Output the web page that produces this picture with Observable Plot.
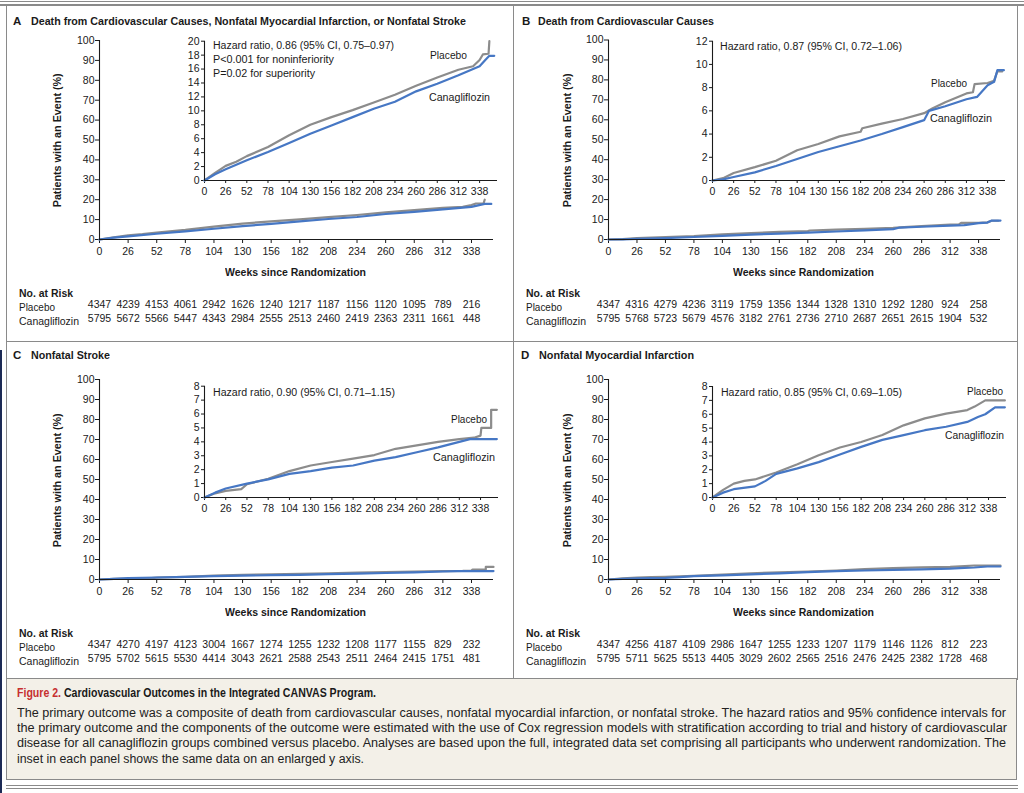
<!DOCTYPE html>
<html>
<head>
<meta charset="utf-8">
<script src="https://cdn.jsdelivr.net/npm/d3@7"></script>
<script src="https://cdn.jsdelivr.net/npm/@observablehq/plot@0.6"></script>
<style>
  html, body { margin: 0; padding: 0; background: #fff; }
  #fig { position: relative; width: 1024px; height: 793px; overflow: hidden; background: #fff;
         font-family: "Liberation Sans Narrow", "Liberation Sans", Arial, sans-serif; color: #1a1a1a; }
  #fig svg { position: absolute; left: 0; top: 0; }
  .t { position: absolute; left: 0; top: 0; white-space: nowrap; line-height: 1.2; }
  .ln { position: absolute; background: #8a8a8a; }
</style>
</head>
<body>
<div id="fig"></div>
<script>
// ---------------- DATA ----------------
const weekTicks = [0, 26, 52, 78, 104, 130, 156, 182, 208, 234, 260, 286, 312, 338];

// Numbers at risk
const riskPlaceboA = [4347, 4239, 4153, 4061, 2942, 1626, 1240, 1217, 1187, 1156, 1120, 1095, 789, 216];
const riskCanaA    = [5795, 5672, 5566, 5447, 4343, 2984, 2555, 2513, 2460, 2419, 2363, 2311, 1661, 448];
const riskPlaceboB = [4347, 4316, 4279, 4236, 3119, 1759, 1356, 1344, 1328, 1310, 1292, 1280, 924, 258];
const riskCanaB    = [5795, 5768, 5723, 5679, 4576, 3182, 2761, 2736, 2710, 2687, 2651, 2615, 1904, 532];
const riskPlaceboC = [4347, 4270, 4197, 4123, 3004, 1667, 1274, 1255, 1232, 1208, 1177, 1155, 829, 232];
const riskCanaC    = [5795, 5702, 5615, 5530, 4414, 3043, 2621, 2588, 2543, 2511, 2464, 2415, 1751, 481];
const riskPlaceboD = [4347, 4256, 4187, 4109, 2986, 1647, 1255, 1233, 1207, 1179, 1146, 1126, 812, 223];
const riskCanaD    = [5795, 5711, 5625, 5513, 4405, 3029, 2602, 2565, 2516, 2476, 2425, 2382, 1728, 468];

// Cumulative incidence (%): [week, percent]
const placeboA = [[0,0],[13,1.1],[26,2.1],[39,2.7],[52,3.5],[78,4.8],[104,6.5],[130,8.0],[156,9.1],[182,10.1],[208,11.2],[234,12.3],[260,13.6],[286,14.8],[312,15.9],[330,16.4],[338,17.3],[342,18.1],[349,18.2],[350,20.0]];
const canaA    = [[0,0],[13,0.9],[26,1.6],[52,2.9],[78,4.1],[104,5.4],[130,6.7],[156,7.9],[182,9.1],[208,10.3],[234,11.3],[260,12.8],[286,13.9],[312,15.1],[338,16.4],[345,17.3],[350,17.9],[356,17.9]];

const placeboB = [[0,0],[13,0.2],[26,0.65],[52,1.15],[78,1.7],[104,2.6],[130,3.15],[156,3.8],[182,4.2],[184,4.5],[208,4.9],[234,5.3],[260,5.8],[270,6.2],[286,6.75],[312,7.5],[320,7.6],[322,8.3],[338,8.4],[346,8.6],[350,9.4],[356,9.4]];
const canaB    = [[0,0],[13,0.1],[26,0.3],[52,0.7],[78,1.25],[104,1.85],[130,2.45],[156,2.95],[182,3.45],[208,4.0],[234,4.6],[260,5.2],[266,6.0],[286,6.4],[312,7.0],[325,7.2],[338,8.2],[346,8.5],[350,9.5],[358,9.5]];

const placeboC = [[0,0],[13,0.3],[26,0.48],[45,0.6],[52,0.95],[78,1.35],[104,1.9],[130,2.3],[156,2.55],[182,2.8],[208,3.05],[234,3.5],[260,3.75],[286,4.0],[312,4.2],[330,4.3],[338,4.45],[339,5.0],[351,5.0],[351,6.3],[358,6.3]];
const canaC    = [[0,0],[13,0.35],[26,0.65],[52,1.0],[78,1.3],[104,1.7],[130,1.9],[156,2.15],[182,2.3],[208,2.65],[234,2.9],[260,3.25],[286,3.6],[312,4.0],[325,4.2],[358,4.2]];

const placeboD = [[0,0],[13,0.55],[26,1.0],[39,1.2],[52,1.3],[78,1.8],[104,2.4],[130,3.05],[156,3.6],[182,4.0],[208,4.5],[234,5.2],[260,5.7],[286,6.05],[312,6.3],[321,6.55],[334,7.0],[358,7.0]];
const canaD    = [[0,0],[13,0.35],[26,0.6],[52,0.8],[65,1.2],[78,1.7],[104,2.1],[130,2.55],[156,3.1],[182,3.65],[208,4.15],[234,4.5],[260,4.85],[286,5.1],[312,5.45],[325,5.8],[334,6.0],[346,6.5],[358,6.5]];

const mainYTicks = [0, 10, 20, 30, 40, 50, 60, 70, 80, 90, 100];
const insetYTicksA = [0, 2, 4, 6, 8, 10, 12, 14, 16, 18, 20];
const insetYTicksB = [0, 2, 4, 6, 8, 10, 12];
const insetYTicksC = [0, 1, 2, 3, 4, 5, 6, 7, 8];
const insetYTicksD = [0, 1, 2, 3, 4, 5, 6, 7, 8];

// ---------------- DRAW ----------------
const W = 1024, H = 793;
const fig = document.getElementById("fig");
const GRAY = "#8c8c8c", BLUE = "#4677c4";

function drawPlot({l, r, t, b, xmax, ymax, yticks, tick, placebo, cana, riskP, riskC}) {
  const marks = [
    Plot.line(placebo, {x: d => d[0], y: d => d[1], stroke: GRAY, strokeWidth: 2.2}),
    Plot.line(cana, {x: d => d[0], y: d => d[1], stroke: BLUE, strokeWidth: 2.2}),
    Plot.ruleY([0], {stroke: "#1a1a1a", strokeWidth: 1.1}),
    Plot.ruleX([0], {stroke: "#1a1a1a", strokeWidth: 1.1})
  ];
  if (riskP) {
    marks.push(Plot.text(weekTicks, {x: d => d, text: (d, i) => String(riskP[i]), frameAnchor: "bottom", dy: 68.5, fill: "#1a1a1a", fontSize: 10.5}));
    marks.push(Plot.text(weekTicks, {x: d => d, text: (d, i) => String(riskC[i]), frameAnchor: "bottom", dy: 82.5, fill: "#1a1a1a", fontSize: 10.5}));
  }
  const svg = Plot.plot({
    width: W, height: H,
    marginLeft: l, marginRight: W - r, marginTop: t, marginBottom: H - b,
    style: {background: "transparent", fontFamily: "'Liberation Sans', Arial, sans-serif", fontSize: "10.5px", color: "#1a1a1a"},
    x: {domain: [0, xmax], ticks: weekTicks, tickSize: tick, tickPadding: 4, label: null, tickFormat: d => String(d)},
    y: {domain: [0, ymax], ticks: yticks, tickSize: tick, tickPadding: tick === 4 ? 1 : 2, label: null, tickFormat: d => String(d)},
    marks
  });
  fig.appendChild(svg);
}

// Main plots
drawPlot({l: 99, r: 493, t: 40, b: 239, xmax: 358, ymax: 100, yticks: mainYTicks, tick: 4, placebo: placeboA, cana: canaA, riskP: riskPlaceboA, riskC: riskCanaA});
drawPlot({l: 608, r: 1000, t: 39.5, b: 239, xmax: 358, ymax: 100, yticks: mainYTicks, tick: 4, placebo: placeboB, cana: canaB, riskP: riskPlaceboB, riskC: riskCanaB});
drawPlot({l: 99, r: 493, t: 379, b: 579, xmax: 358, ymax: 100, yticks: mainYTicks, tick: 4, placebo: placeboC, cana: canaC, riskP: riskPlaceboC, riskC: riskCanaC});
drawPlot({l: 608, r: 1000, t: 379, b: 579, xmax: 358, ymax: 100, yticks: mainYTicks, tick: 4, placebo: placeboD, cana: canaD, riskP: riskPlaceboD, riskC: riskCanaD});
// Insets
drawPlot({l: 204, r: 497, t: 40.7, b: 180, xmax: 360, ymax: 20, yticks: insetYTicksA, tick: 3, placebo: placeboA, cana: canaA});
drawPlot({l: 712, r: 1005, t: 40.7, b: 180, xmax: 360, ymax: 12, yticks: insetYTicksB, tick: 3, placebo: placeboB, cana: canaB});
drawPlot({l: 204, r: 498, t: 385.7, b: 497, xmax: 360, ymax: 8, yticks: insetYTicksC, tick: 3, placebo: placeboC, cana: canaC});
drawPlot({l: 712, r: 1006, t: 386, b: 497, xmax: 360, ymax: 8, yticks: insetYTicksD, tick: 3, placebo: placeboD, cana: canaD});

// ---------------- TEXT ----------------
function label(html, o) {
  const el = document.createElement("div");
  el.className = "t";
  el.innerHTML = html;
  el.style.fontSize = o.size + "px";
  el.style.fontWeight = o.bold ? "bold" : "normal";
  el.style.color = o.color || "#1a1a1a";
  if (o.font) el.style.fontFamily = o.font;
  fig.appendChild(el);
  const rect = el.getBoundingClientRect();
  const w = rect.width, h = rect.height;
  const Wt = o.width || w, s = Wt / w;
  if (o.rotate) {
    el.style.left = (o.x - w / 2) + "px";
    el.style.top = (o.y - h / 2) + "px";
    el.style.transformOrigin = "50% 50%";
    el.style.transform = `rotate(-90deg) scaleX(${s})`;
  } else {
    const left = o.anchor === "middle" ? o.x - Wt / 2 : o.x;
    el.style.left = left + "px";
    el.style.top = (o.y - h / 2) + "px";
    el.style.transformOrigin = "0 50%";
    el.style.transform = `scaleX(${s})`;
  }
  return el;
}

// Panel titles
label("A", {x: 13, y: 22, size: 11.5, bold: true});
label("Death from Cardiovascular Causes, Nonfatal Myocardial Infarction, or Nonfatal Stroke", {x: 30.7, y: 22, size: 11.5, bold: true, width: 435});
label("B", {x: 522, y: 22, size: 11.5, bold: true});
label("Death from Cardiovascular Causes", {x: 538, y: 22, size: 11.5, bold: true, width: 176});
label("C", {x: 13, y: 356, size: 11.5, bold: true});
label("Nonfatal Stroke", {x: 31, y: 356, size: 11.5, bold: true, width: 79});
label("D", {x: 521, y: 356, size: 11.5, bold: true});
label("Nonfatal Myocardial Infarction", {x: 539, y: 356, size: 11.5, bold: true, width: 155});

// Axis titles and risk-table row labels
const panels = [
  {yx: 57, yy: 140, xx: 295.5, xy: 272, rx: 19, ry: 293.5},
  {yx: 567, yy: 140, xx: 803, xy: 272, rx: 526, ry: 293.5},
  {yx: 57, yy: 480, xx: 295.5, xy: 612, rx: 19, ry: 633.5},
  {yx: 567, yy: 480, xx: 803, xy: 612, rx: 526, ry: 633.5}
];
for (const p of panels) {
  label("Patients with an Event (%)", {x: p.yx, y: p.yy, size: 10.5, bold: true, width: 134, rotate: true});
  label("Weeks since Randomization", {x: p.xx, y: p.xy, size: 10.5, bold: true, width: 141, anchor: "middle"});
  label("No. at Risk", {x: p.rx, y: p.ry, size: 10.5, bold: true, width: 54});
  label("Placebo", {x: p.rx, y: p.ry + 14, size: 10.5, width: 36});
  label("Canagliflozin", {x: p.rx, y: p.ry + 28, size: 10.5, width: 60});
}

// Hazard ratio annotations
label("Hazard ratio, 0.86 (95% CI, 0.75–0.97)", {x: 213, y: 46, size: 10, width: 181});
label("P&lt;0.001 for noninferiority", {x: 213, y: 60, size: 10, width: 121});
label("P=0.02 for superiority", {x: 213, y: 74, size: 10, width: 102});
label("Hazard ratio, 0.87 (95% CI, 0.72–1.06)", {x: 720, y: 47, size: 10, width: 182});
label("Hazard ratio, 0.90 (95% CI, 0.71–1.15)", {x: 213, y: 392.5, size: 10, width: 182});
label("Hazard ratio, 0.85 (95% CI, 0.69–1.05)", {x: 720.5, y: 393, size: 10, width: 181});

// Series labels
label("Placebo", {x: 430, y: 55, size: 10.5, width: 37});
label("Canagliflozin", {x: 429.3, y: 97, size: 10.5, width: 61});
label("Placebo", {x: 931, y: 83, size: 10.5, width: 36});
label("Canagliflozin", {x: 930, y: 118, size: 10.5, width: 62});
label("Placebo", {x: 451, y: 419, size: 10.5, width: 36});
label("Canagliflozin", {x: 433, y: 457, size: 10.5, width: 62});
label("Placebo", {x: 967, y: 391.5, size: 10.5, width: 36});
label("Canagliflozin", {x: 945, y: 435, size: 10.5, width: 59});

// ---------------- FRAME ----------------
function line(x, y, w, h, color) {
  const d = document.createElement("div");
  d.className = "ln";
  d.style.left = x + "px"; d.style.top = y + "px";
  d.style.width = w + "px"; d.style.height = h + "px";
  if (color) d.style.background = color;
  fig.appendChild(d);
  return d;
}
// caption background
const cap = line(6, 678, 1011, 102, "#f3f0e8");
cap.style.boxSizing = "border-box";
cap.style.border = "1.5px solid #8a8a8a";
line(0, 0.5, 1024, 1.5);
line(0, 4, 1024, 1.5);
line(5.5, 4, 1.5, 676);
line(1016.5, 4, 1.5, 676);
line(512.5, 4, 1.5, 675);
line(6, 340.5, 1011, 1.5);
line(6, 784.5, 1012, 1.5);
line(6, 787.5, 1012, 1.5);
line(0, 350, 2, 443, "#1c2a55");

// Caption text
label('<span style="color:#c62f2f">Figure 2.</span> Cardiovascular Outcomes in the Integrated CANVAS Program.', {x: 17, y: 693.5, size: 12, bold: true, width: 359});
const capLines = [
  "The primary outcome was a composite of death from cardiovascular causes, nonfatal myocardial infarction, or nonfatal stroke. The hazard ratios and 95% confidence intervals for",
  "the primary outcome and the components of the outcome were estimated with the use of Cox regression models with stratification according to trial and history of cardiovascular",
  "disease for all canagliflozin groups combined versus placebo. Analyses are based upon the full, integrated data set comprising all participants who underwent randomization. The",
  "inset in each panel shows the same data on an enlarged y axis."
];
const capWidths = [989, 990, 989, 347];
const capY = [713.5, 728.5, 743.5, 759];
capLines.forEach((s, i) => label(s, {x: 17, y: capY[i], size: 12, width: capWidths[i], color: "#222"}));
</script>
</body>
</html>
